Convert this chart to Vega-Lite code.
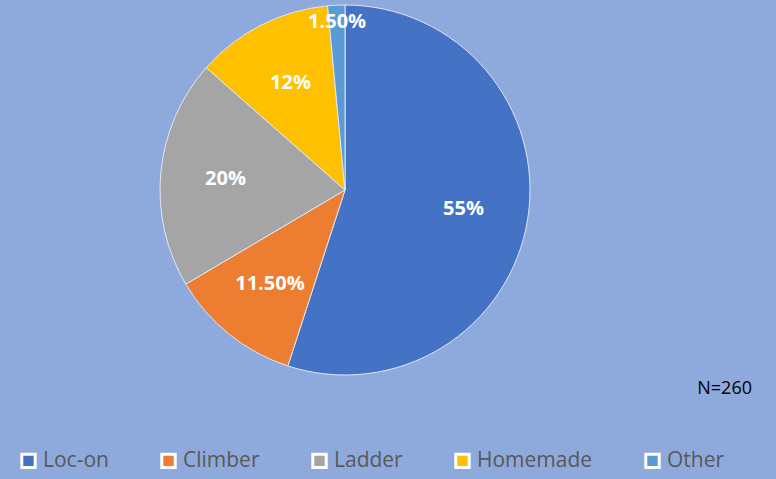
{
  "$schema": "https://vega.github.io/schema/vega-lite/v6.json",
  "width": 654,
  "height": 380,
  "padding": {"left": 18, "top": 0, "right": 104, "bottom": 5},
  "background": "#8EA9DB",
  "config": {"view": {"stroke": null}, "font": "Open Sans"},
  "title": {"text": "N=260", "orient": "bottom", "anchor": "end", "frame": "group", "fontSize": 18, "fontWeight": "normal", "color": "#000000", "font": "Open Sans", "dx": 80, "dy": -98},
  "data": {"values": [
    {"category": "Loc-on", "value": 55, "label": "55%", "rank": 1},
    {"category": "Climber", "value": 11.5, "label": "11.50%", "rank": 2},
    {"category": "Ladder", "value": 20, "label": "20%", "rank": 3},
    {"category": "Homemade", "value": 12, "label": "12%", "rank": 4},
    {"category": "Other", "value": 1.5, "label": "1.50%", "rank": 5}
  ]},
  "encoding": {
    "theta": {"field": "value", "type": "quantitative", "stack": true},
    "order": {"field": "rank", "type": "quantitative", "sort": "ascending"},
    "color": {
      "field": "category", "type": "nominal",
      "sort": ["Loc-on", "Climber", "Ladder", "Homemade", "Other"],
      "scale": {"domain": ["Loc-on", "Climber", "Ladder", "Homemade", "Other"], "range": ["#4472C4", "#ED7D31", "#A5A5A5", "#FFC000", "#5B9BD5"]},
      "legend": {
        "title": null, "orient": "bottom", "direction": "horizontal", "offset": 70,
        "symbolType": "square", "symbolSize": 180, "symbolStrokeColor": "#ffffff", "symbolStrokeWidth": 3, "symbolOpacity": 1,
        "labelFontSize": 21, "labelColor": "#595959", "labelFont": "Open Sans", "columnPadding": 46, "labelOffset": 4
      }
    }
  },
  "layer": [
    {"mark": {"type": "arc", "outerRadius": 185, "stroke": "#dfe7f5", "strokeWidth": 1}},
    {"mark": {"type": "text", "radius": 120, "fontSize": 20, "fontWeight": "bold", "fill": "#ffffff", "font": "Open Sans"},
     "encoding": {
       "text": {"condition": {"test": "datum.category !== 'Other'", "field": "label", "type": "nominal"}, "value": ""}
     }},
    {"mark": {"type": "text", "radius": 168, "fontSize": 20, "fontWeight": "bold", "fill": "#ffffff", "font": "Open Sans"},
     "encoding": {
       "text": {"condition": {"test": "datum.category === 'Other'", "field": "label", "type": "nominal"}, "value": ""}
     }}
  ]
}
